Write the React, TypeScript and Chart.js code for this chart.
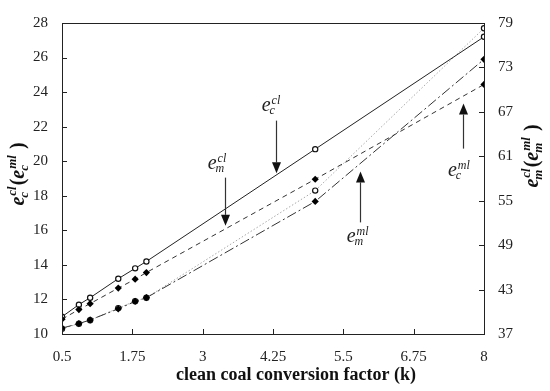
import { useEffect, useRef } from 'react';
import { Chart, registerables } from 'chart.js';

Chart.register(...registerables);

// ---- data ----
const kValues = [0.5, 0.8, 1, 1.5, 1.8, 2, 5, 8];
const ecCl = [11.0, 11.7, 12.1, 13.2, 13.8, 14.2, 20.7, 27.2]; // left axis
const ecMl = [10.3, 10.6, 10.8, 11.5, 11.9, 12.1, 18.3, 27.7]; // left axis
const emCl = [39.0, 40.3, 41.1, 43.2, 44.4, 45.3, 57.9, 70.7]; // right axis
const emMl = [37.8, 38.4, 38.9, 40.4, 41.4, 41.9, 54.9, 74.1]; // right axis

const xTicks = [0.5, 1.75, 3, 4.25, 5.5, 6.75, 8];
const leftTicks = [10, 12, 14, 16, 18, 20, 22, 24, 26, 28];
const rightTicks = [37, 43, 49, 55, 61, 67, 73, 79];

// annotation labels (data coordinates on x / left axis)
const annSub = ['c', 'm', 'm', 'c'];
const annSup = ['cl', 'cl', 'ml', 'ml'];
const annTextK = [4.05, 3.09, 5.56, 7.36];
const annTextV = [22.9, 19.57, 15.34, 19.16];
const annArrowK = [4.31, 3.4, 5.805, 7.63];
const annArrowFrom = [22.35, 19.05, 16.46, 20.73];
const annArrowTo = [19.3, 16.26, 19.41, 23.34];

const SERIF = '"Liberation Serif", "DejaVu Serif", serif';

type Piece = { t: string; sub?: string; sup?: string; italic?: boolean };

function drawRich(
  ctx: CanvasRenderingContext2D,
  pieces: Piece[],
  x: number,
  y: number,
  base: number,
  small: number,
  bold: boolean,
  align: 'left' | 'center',
  subDy: number,
  supDy: number
) {
  const b = bold ? 'bold ' : '';
  const widths = pieces.map((p) => {
    ctx.font = `${p.italic ? 'italic ' : ''}${b}${base}px ${SERIF}`;
    const w = ctx.measureText(p.t).width;
    let extra = 0;
    ctx.font = `italic ${b}${small}px ${SERIF}`;
    if (p.sub || p.sup) {
      const ws = p.sub ? ctx.measureText(p.sub).width : 0;
      const wp = p.sup ? ctx.measureText(p.sup).width : 0;
      extra = Math.max(ws, wp + 1) + 1;
    }
    return { w, extra };
  });
  const total = widths.reduce((s, o) => s + o.w + o.extra, 0);
  let cx = align === 'center' ? x - total / 2 : x;
  ctx.textBaseline = 'alphabetic';
  ctx.textAlign = 'left';
  pieces.forEach((p, i) => {
    ctx.font = `${p.italic ? 'italic ' : ''}${b}${base}px ${SERIF}`;
    ctx.fillText(p.t, cx, y);
    cx += widths[i].w;
    ctx.font = `italic ${b}${small}px ${SERIF}`;
    if (p.sub) ctx.fillText(p.sub, cx - 1, y + subDy);
    if (p.sup) ctx.fillText(p.sup, cx + 1, y + supDy);
    cx += widths[i].extra;
  });
}

const decorPlugin = {
  id: 'decor',
  afterDraw(chart: any) {
    const ctx: CanvasRenderingContext2D = chart.ctx;
    const { left, right, top, bottom } = chart.chartArea;
    const xs = chart.scales.x;
    const yl = chart.scales.yL;
    const yr = chart.scales.yR;
    ctx.save();
    // frame
    ctx.strokeStyle = '#222';
    ctx.lineWidth = 1;
    ctx.strokeRect(left + 0.5, top + 0.5, right - left, bottom - top);
    // inward ticks
    ctx.beginPath();
    xTicks.forEach((v) => {
      const px = Math.round(xs.getPixelForValue(v)) + 0.5;
      ctx.moveTo(px, bottom);
      ctx.lineTo(px, bottom - 5);
    });
    leftTicks.forEach((v) => {
      const py = Math.round(yl.getPixelForValue(v)) + 0.5;
      ctx.moveTo(left, py);
      ctx.lineTo(left + 5, py);
    });
    rightTicks.forEach((v) => {
      const py = Math.round(yr.getPixelForValue(v)) + 0.5;
      ctx.moveTo(right, py);
      ctx.lineTo(right - 5, py);
    });
    ctx.stroke();

    // x title
    ctx.fillStyle = '#111';
    ctx.font = `bold 18px ${SERIF}`;
    ctx.textAlign = 'center';
    ctx.textBaseline = 'middle';
    ctx.fillText('clean coal conversion factor (k)', 296, 375);

    // left title (rotated)
    ctx.save();
    ctx.translate(24, 174);
    ctx.rotate(-Math.PI / 2);
    drawRich(
      ctx,
      [
        { t: 'e', sub: 'c', sup: 'cl', italic: true },
        { t: '(' },
        { t: 'e', sub: 'c', sup: 'ml', italic: true },
        { t: ' )' },
      ],
      0,
      0,
      20,
      13,
      true,
      'center',
      4,
      -8
    );
    ctx.restore();

    // right title (rotated)
    ctx.save();
    ctx.translate(538, 156);
    ctx.rotate(-Math.PI / 2);
    drawRich(
      ctx,
      [
        { t: 'e', sub: 'm', sup: 'cl', italic: true },
        { t: '(' },
        { t: 'e', sub: 'm', sup: 'ml', italic: true },
        { t: ' )' },
      ],
      0,
      0,
      20,
      13,
      true,
      'center',
      4,
      -8
    );
    ctx.restore();

    // annotations
    for (let i = 0; i < annSub.length; i++) {
      const tx = xs.getPixelForValue(annTextK[i]);
      const ty = yl.getPixelForValue(annTextV[i]);
      ctx.fillStyle = '#222';
      drawRich(
        ctx,
        [{ t: 'e', sub: annSub[i], sup: annSup[i], italic: true }],
        tx,
        ty,
        20,
        12,
        false,
        'left',
        3,
        -7
      );
      const ax = Math.round(xs.getPixelForValue(annArrowK[i])) + 0.5;
      const y1 = yl.getPixelForValue(annArrowFrom[i]);
      const y2 = yl.getPixelForValue(annArrowTo[i]);
      const dir = y2 > y1 ? 1 : -1;
      const head = 11;
      ctx.strokeStyle = '#333';
      ctx.lineWidth = 1.2;
      ctx.beginPath();
      ctx.moveTo(ax, y1);
      ctx.lineTo(ax, y2 - dir * head);
      ctx.stroke();
      ctx.fillStyle = '#111';
      ctx.beginPath();
      ctx.moveTo(ax, y2);
      ctx.lineTo(ax - 4.5, y2 - dir * head);
      ctx.lineTo(ax + 4.5, y2 - dir * head);
      ctx.closePath();
      ctx.fill();
    }
    ctx.restore();
  },
};

export default function App() {
  const ref = useRef<HTMLCanvasElement | null>(null);
  useEffect(() => {
    if (!ref.current) return;
    const mk = (arr: number[]) => kValues.map((k, i) => ({ x: k, y: arr[i] }));
    const tickFont = { family: SERIF, size: 15 };
    const fmt = (v: any) => String(v);
    // dataset index 0 is drawn on top in Chart.js
    const chart = new Chart(ref.current, {
      type: 'line',
      data: {
        datasets: [
          {
            label: 'e_m^cl',
            data: mk(emCl),
            yAxisID: 'yR',
            borderColor: '#333',
            borderWidth: 1,
            borderDash: [5, 4],
            pointStyle: 'rectRot',
            pointRadius: 3.6,
            pointBorderWidth: 0,
            pointBackgroundColor: '#000',
            pointBorderColor: '#000',
          },
          {
            label: 'e_m^ml',
            data: mk(emMl),
            yAxisID: 'yR',
            borderColor: '#333',
            borderWidth: 1,
            borderDash: [10, 3, 2, 3],
            pointStyle: 'rectRot',
            pointRadius: 3.6,
            pointBorderWidth: 0,
            pointBackgroundColor: '#000',
            pointBorderColor: '#000',
          },
          {
            label: 'e_c^cl',
            data: mk(ecCl),
            yAxisID: 'yL',
            borderColor: '#222',
            borderWidth: 1,
            pointStyle: 'circle',
            pointRadius: 2.6,
            pointBorderWidth: 1.2,
            pointBorderColor: '#111',
            pointBackgroundColor: '#fff',
          },
          {
            label: 'e_c^ml',
            data: mk(ecMl),
            yAxisID: 'yL',
            borderColor: '#a8a8a8',
            borderWidth: 1,
            borderDash: [1.5, 2],
            pointStyle: 'circle',
            pointRadius: 2.6,
            pointBorderWidth: 1.2,
            pointBorderColor: '#111',
            pointBackgroundColor: '#fff',
          },
        ],
      },
      options: {
        animation: false,
        responsive: true,
        maintainAspectRatio: false,
        layout: { padding: { top: 22, left: 0, right: 0, bottom: 0 } },
        plugins: { legend: { display: false }, tooltip: { enabled: false } },
        scales: {
          x: {
            type: 'linear',
            min: 0.5,
            max: 8,
            afterBuildTicks: (s: any) => {
              s.ticks = xTicks.map((value) => ({ value }));
            },
            afterFit: (s: any) => {
              s.height = 57;
            },
            grid: { display: false, drawTicks: false },
            border: { display: false },
            ticks: { font: tickFont, color: '#222', padding: 14, maxRotation: 0, autoSkip: false, callback: fmt },
          },
          yL: {
            type: 'linear',
            position: 'left',
            min: 10,
            max: 28,
            afterBuildTicks: (s: any) => {
              s.ticks = leftTicks.map((value) => ({ value }));
            },
            afterFit: (s: any) => {
              s.width = 62;
            },
            grid: { display: false, drawTicks: false },
            border: { display: false },
            ticks: { font: tickFont, color: '#222', padding: 14, callback: fmt },
          },
          yR: {
            type: 'linear',
            position: 'right',
            min: 37,
            max: 79,
            afterBuildTicks: (s: any) => {
              s.ticks = rightTicks.map((value) => ({ value }));
            },
            afterFit: (s: any) => {
              s.width = 66;
            },
            grid: { display: false, drawTicks: false },
            border: { display: false },
            ticks: { font: tickFont, color: '#222', padding: 14, callback: fmt },
          },
        },
      },
      plugins: [decorPlugin],
    });
    return () => chart.destroy();
  }, []);
  return (
    <div style={{ position: 'fixed', left: 0, top: 0, width: 550, height: 391, background: '#fff' }}>
      <canvas ref={ref} />
    </div>
  );
}
